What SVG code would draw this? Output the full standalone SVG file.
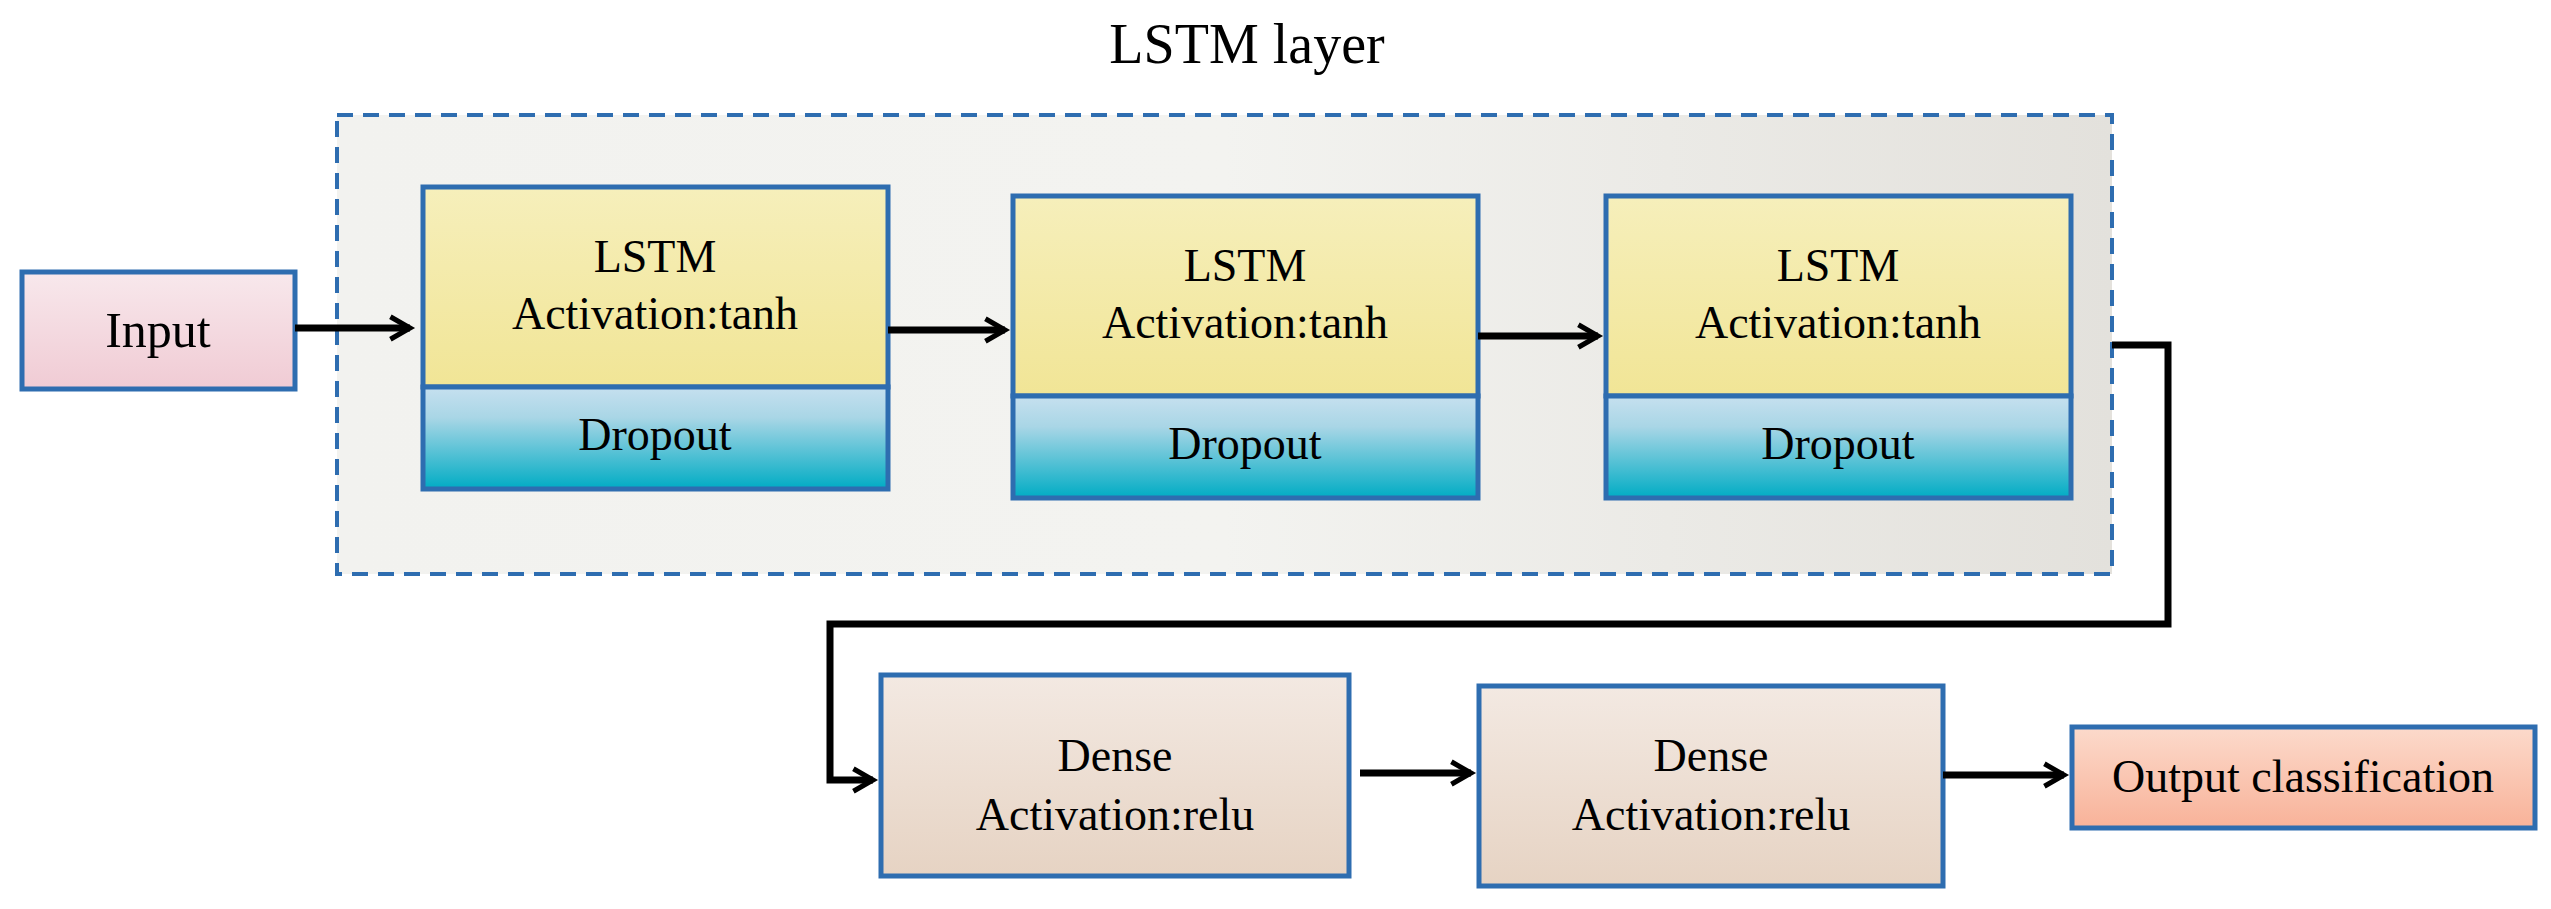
<svg xmlns="http://www.w3.org/2000/svg" width="2551" height="909" viewBox="0 0 2551 909">
<defs>
<linearGradient id="gy" x1="0" y1="0" x2="0" y2="1"><stop offset="0" stop-color="#f6efbb"/><stop offset="1" stop-color="#f1e596"/></linearGradient>
<linearGradient id="gb" x1="0" y1="0" x2="0" y2="1"><stop offset="0" stop-color="#c6e0ef"/><stop offset="0.3" stop-color="#a9d6e6"/><stop offset="1" stop-color="#00acc4"/></linearGradient>
<linearGradient id="gp" x1="0" y1="0" x2="0" y2="1"><stop offset="0" stop-color="#f8e8ec"/><stop offset="1" stop-color="#f0cbd4"/></linearGradient>
<linearGradient id="gd" x1="0" y1="0" x2="0" y2="1"><stop offset="0" stop-color="#f3e9e2"/><stop offset="1" stop-color="#e6d3c3"/></linearGradient>
<linearGradient id="go" x1="0" y1="0" x2="0" y2="1"><stop offset="0" stop-color="#fcdacb"/><stop offset="1" stop-color="#f8b299"/></linearGradient>
<linearGradient id="gbg" x1="0" y1="0" x2="1" y2="0"><stop offset="0" stop-color="#f2f2ef"/><stop offset="0.5" stop-color="#f3f3f0"/><stop offset="1" stop-color="#e3e1dc"/></linearGradient>
<marker id="ah" viewBox="0 0 10 10" refX="8" refY="5" markerWidth="4" markerHeight="4" orient="auto" markerUnits="strokeWidth"><path d="M1,1 L8,5 L1,9" fill="none" stroke="#000" stroke-width="1.8"/></marker>
<style>
.b{stroke:#2e6db0;stroke-width:5}
text{font-family:"Liberation Serif","Times New Roman",serif;font-size:46px;fill:#000;text-anchor:middle}
.c{fill:none;stroke:#000;stroke-width:7}
</style>
</defs>
<text x="1247" y="63" style="font-size:56px">LSTM layer</text>
<rect id="lstm_layer" x="337" y="115" width="1775" height="459" fill="url(#gbg)" stroke="#2e6db0" stroke-width="4" stroke-dasharray="16,10"/>
<g id="input"><rect class="b" x="22" y="272" width="273" height="117" fill="url(#gp)"/><text x="158" y="347" style="font-size:50px">Input</text></g>
<g id="lstm1"><rect class="b" x="423" y="187" width="465" height="200" fill="url(#gy)"/><rect class="b" x="423" y="387" width="465" height="102" fill="url(#gb)"/><text x="655" y="272">LSTM</text><text x="655" y="329">Activation:tanh</text><text x="655" y="450">Dropout</text></g>
<g id="lstm2"><rect class="b" x="1013" y="196" width="465" height="200" fill="url(#gy)"/><rect class="b" x="1013" y="396" width="465" height="102" fill="url(#gb)"/><text x="1245" y="281">LSTM</text><text x="1245" y="338">Activation:tanh</text><text x="1245" y="459">Dropout</text></g>
<g id="lstm3"><rect class="b" x="1606" y="196" width="465" height="200" fill="url(#gy)"/><rect class="b" x="1606" y="396" width="465" height="102" fill="url(#gb)"/><text x="1838" y="281">LSTM</text><text x="1838" y="338">Activation:tanh</text><text x="1838" y="459">Dropout</text></g>
<g id="dense1"><rect class="b" x="881" y="675" width="468" height="201" fill="url(#gd)"/><text x="1115" y="771">Dense</text><text x="1115" y="830">Activation:relu</text></g>
<g id="dense2"><rect class="b" x="1479" y="686" width="464" height="200" fill="url(#gd)"/><text x="1711" y="771">Dense</text><text x="1711" y="830">Activation:relu</text></g>
<g id="output"><rect class="b" x="2072" y="727" width="463" height="101" fill="url(#go)"/><text x="2303" y="792">Output classification</text></g>
<g id="connectors">
<line class="c" x1="295" y1="328" x2="410" y2="328" marker-end="url(#ah)"/>
<line class="c" x1="888" y1="330" x2="1005" y2="330" marker-end="url(#ah)"/>
<line class="c" x1="1478" y1="336" x2="1598" y2="336" marker-end="url(#ah)"/>
<polyline class="c" points="2112,345 2168,345 2168,624 830,624 830,780 873,780" marker-end="url(#ah)"/>
<line class="c" x1="1360" y1="773" x2="1471" y2="773" marker-end="url(#ah)"/>
<line class="c" x1="1943" y1="775" x2="2064" y2="775" marker-end="url(#ah)"/>
</g>
</svg>
